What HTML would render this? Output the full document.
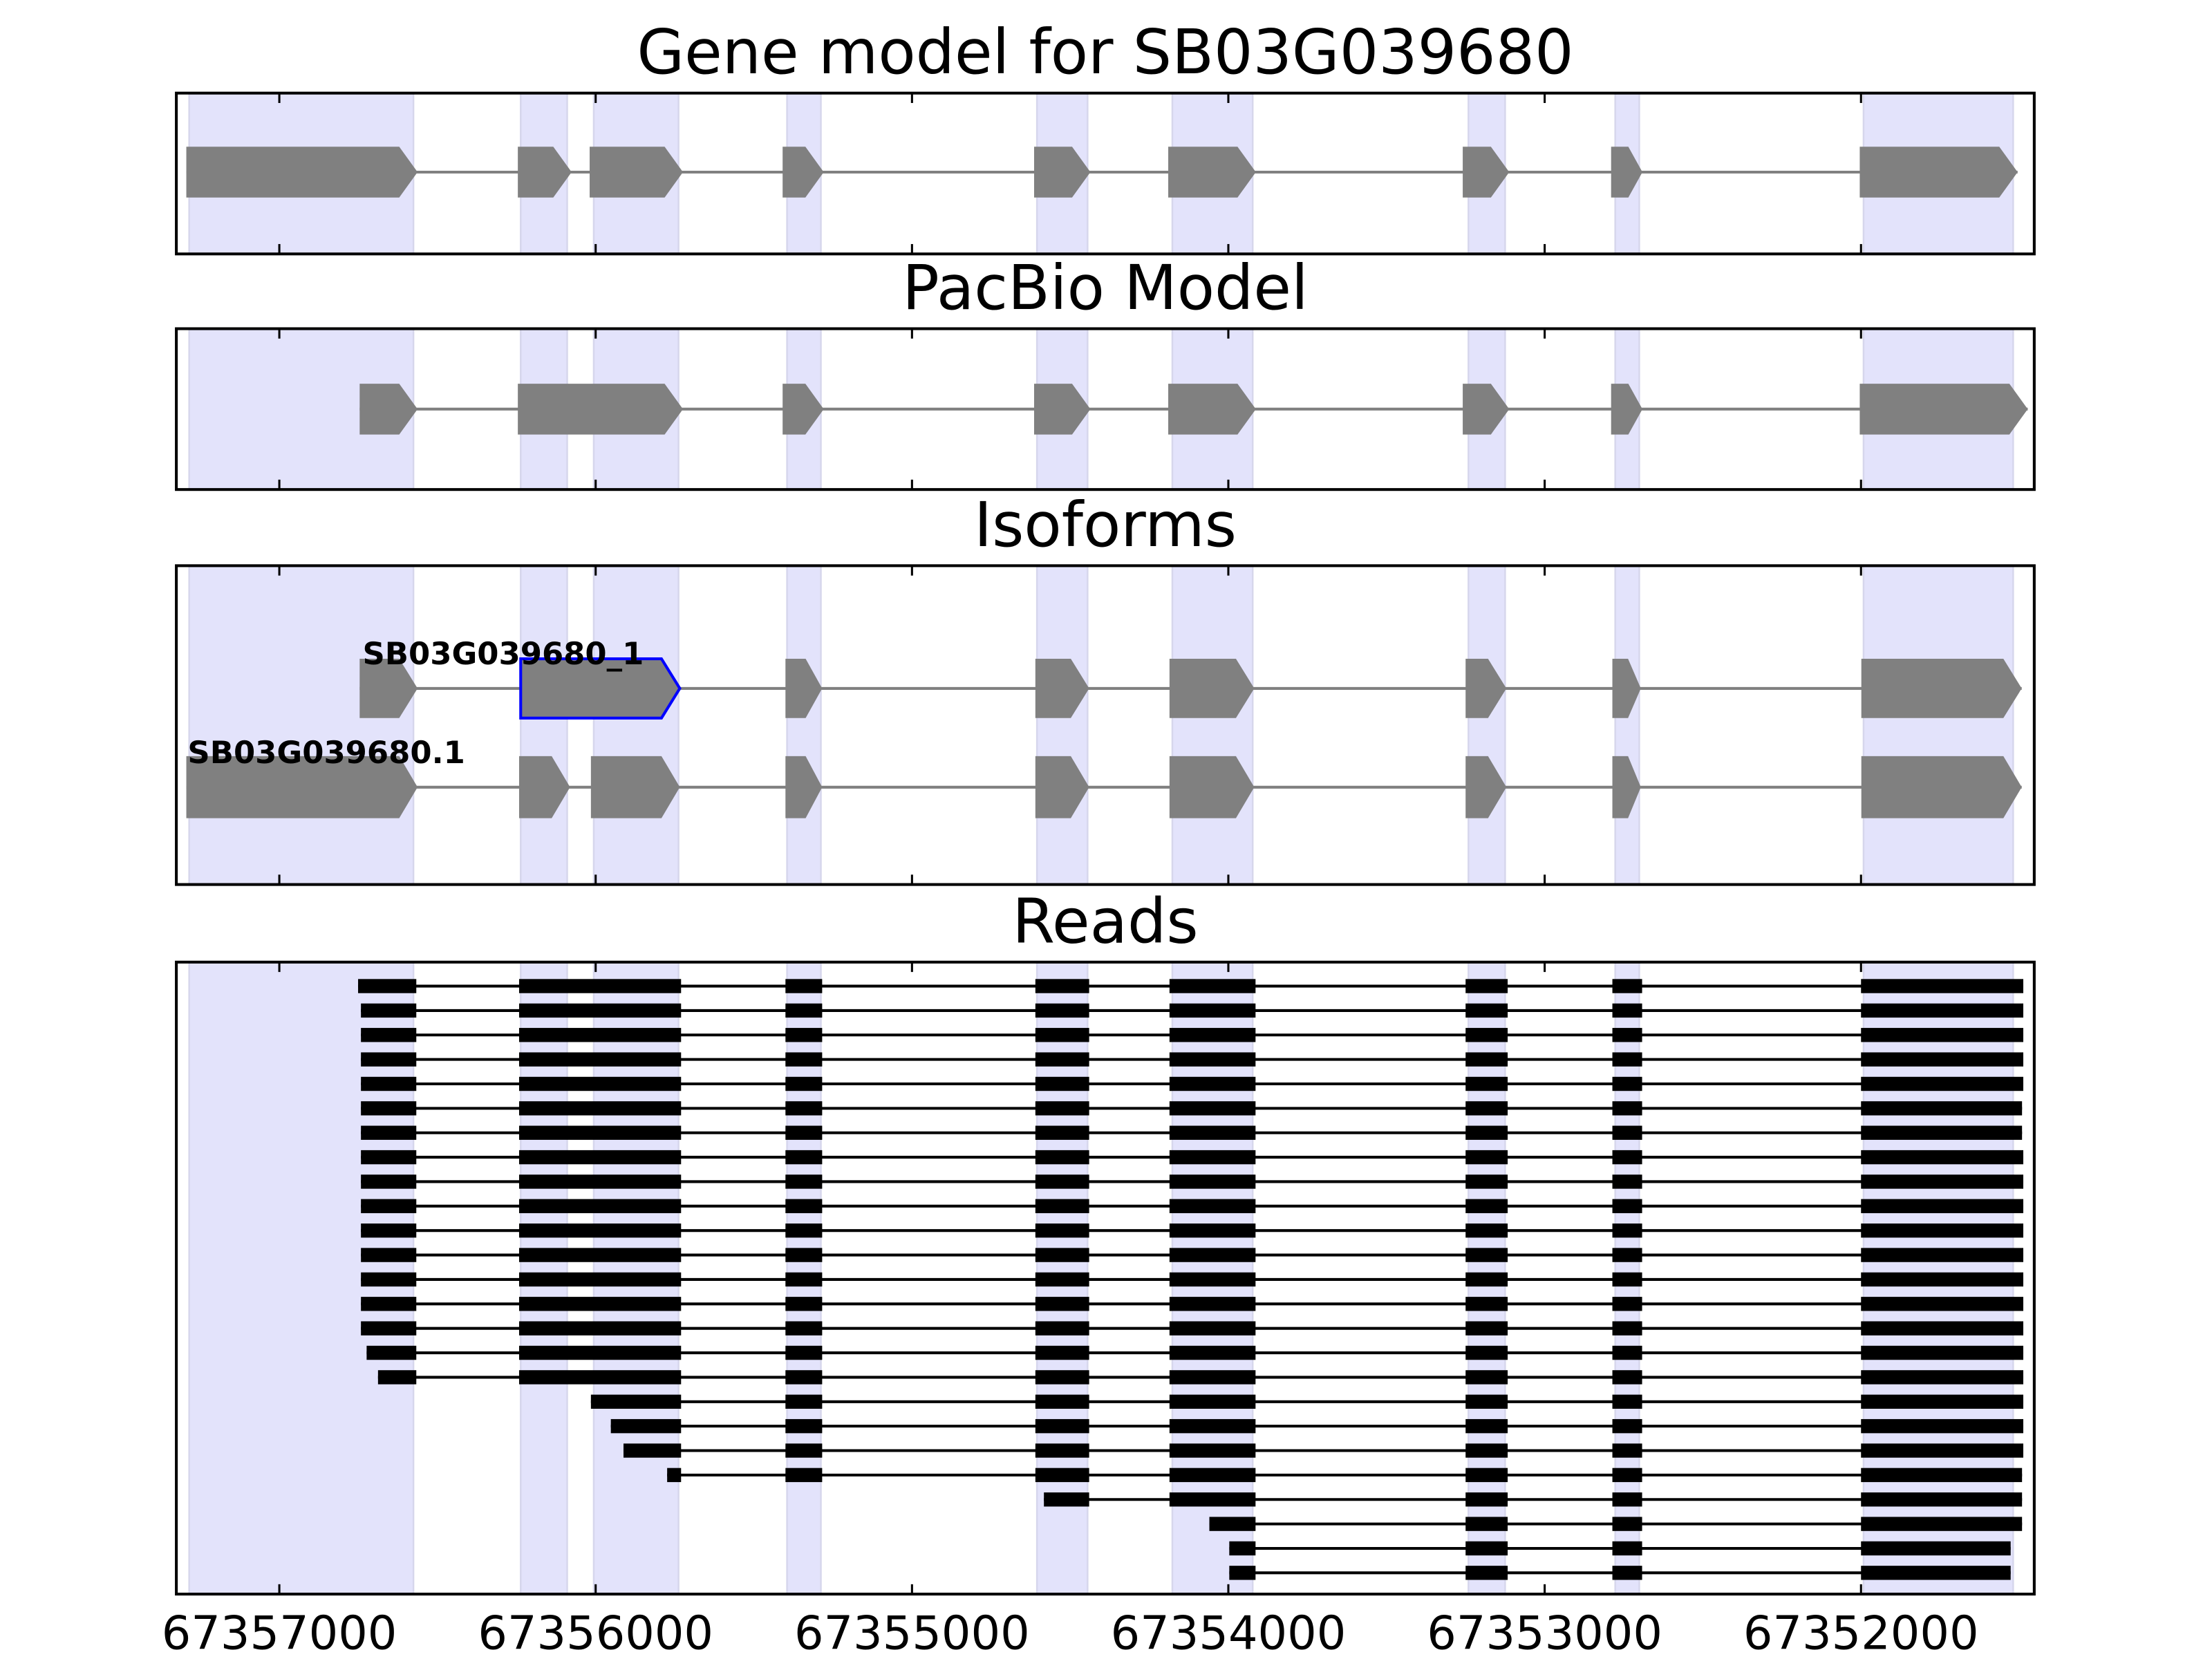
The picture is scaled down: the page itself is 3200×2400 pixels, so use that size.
<!DOCTYPE html>
<html><head><meta charset="utf-8"><style>html,body{margin:0;padding:0;background:#fff}svg{display:block}</style></head>
<body>
<svg id="chart" xmlns="http://www.w3.org/2000/svg" width="3200" height="2400" viewBox="0 0 1568 1176" font-family="'DejaVu Sans','Liberation Sans',sans-serif">
<rect width="1568" height="1176" fill="#fff"/>
</svg>
<script>
// ---- data (genomic coordinates, reversed axis) ----
const xTicks = [67357000, 67356000, 67355000, 67354000, 67353000, 67352000];
const xTickLabels = ["67357000","67356000","67355000","67354000","67353000","67352000"];
const exonBandStarts = [67357285,67356237,67356006,67355395,67354605,67354177,67353241,67352777,67351992];
const exonBandEnds   = [67356576,67356090,67355738,67355288,67354445,67353923,67353125,67352701,67351519];
const geneModelExons = [[67357294,67356563],[67356246,67356076],[67356019,67355724],[67355409,67355279],[67354614,67354436],[67354190,67353913],[67353259,67353112],[67352790,67352691],[67352004,67351505]];
const pacbioExons = [[67356746,67356563],[67356246,67355724],[67355409,67355279],[67354614,67354436],[67354190,67353913],[67353259,67353112],[67352790,67352691],[67352004,67351473]];
const isoform1Exons = [[67356746,67356563],[67356237,67355734],[67355400,67355284],[67354610,67354440],[67354186,67353918],[67353250,67353121],[67352786,67352696],[67351999,67351492]];
const isoform2Exons = [[67357294,67356563],[67356242,67356081],[67356015,67355734],[67355400,67355284],[67354610,67354440],[67354186,67353918],[67353250,67353121],[67352786,67352696],[67351999,67351492]];
const isoformLabels = ["SB03G039680_1","SB03G039680.1"];
const readStarts = [67356751,67356742,67356742,67356742,67356742,67356742,67356742,67356742,67356742,67356742,67356742,67356742,67356742,67356742,67356742,67356724,67356688,67356015,67355952,67355912,67355774,67354583,67354060,67353997,67353997];
const readEnds = [67351487,67351487,67351487,67351487,67351487,67351491,67351491,67351487,67351487,67351487,67351487,67351487,67351487,67351487,67351487,67351487,67351487,67351487,67351487,67351487,67351491,67351491,67351491,67351527,67351527];
const readBlocks = [[67356751,67356567],[67356242,67355730],[67355400,67355284],[67354610,67354440],[67354186,67353914],[67353250,67353117],[67352786,67352692],[67352000,67351487]];

// ---- axis ----
const X0 = 198, PX = 0.22424;
function xs(g){ return X0 + (67357000 - g) * PX; }
const L = 125, R = 1442;
const panels = [
  {name:"gene-model", title:"Gene model for SB03G039680", top:66, bot:180, ty:52},
  {name:"pacbio-model", title:"PacBio Model", top:233, bot:347, ty:219},
  {name:"isoforms", title:"Isoforms", top:401, bot:627, ty:387},
  {name:"reads", title:"Reads", top:682, bot:1130, ty:668}
];
const NS = "http://www.w3.org/2000/svg";
const svg = document.getElementById('chart');
function mk(tag, attrs, parent){
  const e = document.createElementNS(NS, tag);
  for (const k in attrs) e.setAttribute(k, attrs[k]);
  (parent||svg).appendChild(e); return e;
}
function gene(exons, cy, h, fill, parent, nm, outlineIdx){
  const g = mk('g', {}, parent);
  
  
  const l = mk('line', {x1:xs(exons[0][0]), x2:xs(exons[exons.length-1][1]), y1:cy, y2:cy, stroke:'#808080','stroke-width':2}, g);
  
  
  exons.forEach((ex,i)=>{
    const a = xs(ex[0]), b = xs(ex[1]);
    const tip = Math.min(13, (b-a)*0.45);
    const pts = [[a,cy-h/2],[b-tip,cy-h/2],[b,cy],[b-tip,cy+h/2],[a,cy+h/2]].map(p=>p.join(',')).join(' ');
    const p = mk('polygon', {points:pts, fill:fill}, g);
    if (i === outlineIdx){ p.setAttribute('stroke','#0000ff'); p.setAttribute('stroke-width','2'); }
    
    
  });
}
panels.forEach((P, pi)=>{
  const g = mk('g', {});
  
  
  const t = mk('text', {x:(L+R)/2, y:P.ty, 'text-anchor':'middle', 'font-size':43.5, fill:'#000'}, g);
  t.textContent = P.title;
  
  
  exonBandStarts.forEach((s,i)=>{
    const a = xs(s), b = xs(exonBandEnds[i]);
    const r = mk('rect', {x:a, y:P.top, width:b-a, height:P.bot-P.top, fill:'#e3e3fb', stroke:'#d6d6ec','stroke-width':1.2}, g);
    
    
  });
  if (pi===0) gene(geneModelExons, 122, 36, '#808080', g, 'gene-model-track', -1);
  if (pi===1) gene(pacbioExons, 290, 36, '#808080', g, 'pacbio-track', -1);
  if (pi===2){
    gene(isoform1Exons, 488, 42, '#808080', g, 'isoform-1-track', 1);
    gene(isoform2Exons, 558, 44, '#808080', g, 'isoform-2-track', -1);
    const l1 = mk('text', {x:257, y:471, 'font-size':22, 'font-weight':'bold', fill:'#000'}, g);
    l1.textContent = isoformLabels[0];
    
    
    const l2 = mk('text', {x:133, y:541, 'font-size':22, 'font-weight':'bold', fill:'#000'}, g);
    l2.textContent = isoformLabels[1];
    
    
  }
  if (pi===3){
    readStarts.forEach((s,i)=>{
      const e = readEnds[i];
      const cy = 699 + i*17.33;
      const rg = mk('g', {}, g);
      
      
      const bl = readBlocks.map(b=>[Math.min(b[0], s), Math.max(b[1], e)]).filter(b=>b[0] > b[1]);
      if (!bl.length) return;
      const ln = mk('line', {x1:xs(bl[0][0]), x2:xs(bl[bl.length-1][1]), y1:cy, y2:cy, stroke:'#000','stroke-width':2}, rg);
      
      
      bl.forEach(b=>{
        const r = mk('rect', {x:xs(b[0]), y:cy-5, width:xs(b[1])-xs(b[0]), height:10, fill:'#000'}, rg);
        
        
      });
    });
  }
  const f = mk('rect', {x:L, y:P.top, width:R-L, height:P.bot-P.top, fill:'none', stroke:'#000','stroke-width':2}, g);
  
  
  xTicks.forEach((tv,i)=>{
    const x = xs(tv);
    const a = mk('line', {x1:x, x2:x, y1:P.top, y2:P.top+7, stroke:'#000','stroke-width':1.5}, g);
    
    
    const b = mk('line', {x1:x, x2:x, y1:P.bot, y2:P.bot-7, stroke:'#000','stroke-width':1.5}, g);
    
    
    if (pi===3){
      const tl = mk('text', {x:x, y:1169, 'text-anchor':'middle', 'font-size':32.8, fill:'#000'}, g);
      tl.textContent = xTickLabels[i];
      
      
    }
  });
});
</script>
</body></html>
